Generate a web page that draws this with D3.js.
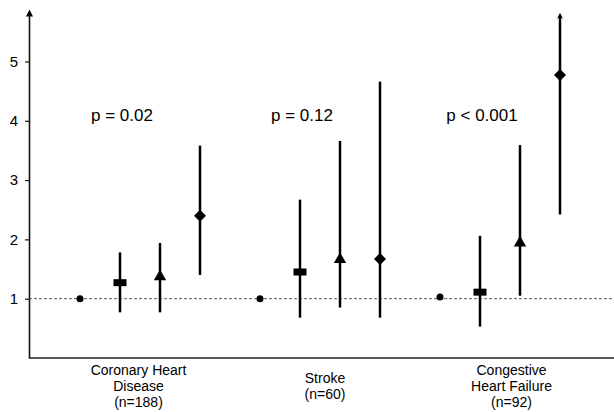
<!DOCTYPE html>
<html>
<head>
<meta charset="utf-8">
<script src="https://cdn.jsdelivr.net/npm/d3@7"></script>
<style>
  body { margin: 0; background: #fff; }
  svg { display: block; font-family: "Liberation Sans", Arial, sans-serif; }
</style>
</head>
<body>
<div id="chart"></div>
<script>
// categories and label lines
const categories = ["CHD", "Stroke", "CHF"];
const categoryLines = [
    ["Coronary Heart", "Disease", "(n=188)"],
    ["Stroke", "(n=60)"],
    ["Congestive", "Heart Failure", "(n=92)"]
];
const groups = ["g1", "g2", "g3", "g4"];
const shapes = ["circle", "rect", "triangle", "diamond"];

// point estimates and confidence limits, one row per category
const estimates = [
    [1.00, 1.27, 1.37, 2.40],
    [1.00, 1.45, 1.66, 1.67],
    [1.03, 1.11, 1.94, 4.77]
];
const lower = [
    [null, 0.77, 0.77, 1.40],
    [null, 0.68, 0.85, 0.68],
    [null, 0.53, 1.05, 2.42]
];
const upper = [
    [null, 1.78, 1.94, 3.58],
    [null, 2.67, 3.66, 4.66],
    [null, 2.06, 3.59, 5.75]
];
// upper limit runs off the chart (drawn with an arrow)
const truncated = [
    [false, false, false, false],
    [false, false, false, false],
    [false, false, false, true]
];
const pValues = ["p = 0.02", "p = 0.12", "p < 0.001"];
const yTicks = [1, 2, 3, 4, 5];
const refValue = 1;

const width = 614, height = 412;
const axisX = 29;

const svg = d3.select("#chart")
    .append("svg")
    .attr("width", width)
    .attr("height", height);

const defs = svg.append("defs");
defs.append("marker")
    .attr("id", "arrow")
    .attr("viewBox", "0 0 10 10")
    .attr("refX", 3).attr("refY", 5)
    .attr("markerWidth", 9).attr("markerHeight", 7)
    .attr("markerUnits", "userSpaceOnUse")
    .attr("orient", "auto")
    .append("path")
    .attr("d", "M0,0 L10,5 L0,10 Z")
    .attr("fill", "#000");
defs.append("marker")
    .attr("id", "ciArrow")
    .attr("viewBox", "0 0 10 10")
    .attr("refX", 3).attr("refY", 5)
    .attr("markerWidth", 8).attr("markerHeight", 6)
    .attr("markerUnits", "userSpaceOnUse")
    .attr("orient", "auto")
    .append("path")
    .attr("d", "M0,0 L10,5 L0,10 L3,5 Z")
    .attr("fill", "#000");

// scales
const y = d3.scaleLinear()
    .domain([0, 5.8])
    .range([358, 14]);

const x = d3.scaleBand()
    .domain(categories)
    .range([50, 590]);

const inner = d3.scalePoint()
    .domain(groups)
    .range([-60, 60]);

// category label positions
const xLabel = d3.scalePoint()
    .domain(categories)
    .range([138, 511]);

// y axis
const yAxis = svg.append("g")
    .attr("transform", `translate(${axisX},0)`)
    .call(d3.axisLeft(y)
        .tickValues(yTicks)
        .tickFormat(d3.format("d"))
        .tickSize(4)
        .tickPadding(7)
        .tickSizeOuter(0));
yAxis.select(".domain")
    .attr("stroke", "#111")
    .attr("stroke-width", 1.6)
    .attr("marker-end", "url(#arrow)");
yAxis.selectAll(".tick line").attr("stroke", "#111").attr("stroke-width", 1.2);
yAxis.selectAll(".tick text")
    .attr("fill", "#000")
    .style("font-size", "15px")
    .style("font-family", "Liberation Sans, Arial, sans-serif");

// x axis with multi-line labels
const xAxis = svg.append("g")
    .attr("transform", `translate(0,${y(0)})`)
    .call(d3.axisBottom(xLabel).tickSize(0).tickFormat(""));
xAxis.select(".domain").remove();
xAxis.append("line")
    .attr("x1", axisX).attr("x2", width)
    .attr("stroke", "#222")
    .attr("stroke-width", 1.4);

xAxis.selectAll(".tick text").each(function (d, i) {
    const lines = categoryLines[i];
    const offset = lines.length === 2 ? 25 : 17;
    const t = d3.select(this)
        .attr("y", 0)
        .attr("dy", null)
        .attr("fill", "#000")
        .style("font-size", "14px")
        .style("font-family", "Liberation Sans, Arial, sans-serif");
    lines.forEach((ln, j) => {
        t.append("tspan")
            .attr("x", 0)
            .attr("y", offset + j * 16)
            .text(ln);
    });
});

// reference line at 1
svg.append("line")
    .attr("x1", axisX).attr("x2", width)
    .attr("y1", y(refValue)).attr("y2", y(refValue))
    .attr("stroke", "#555")
    .attr("stroke-width", 1)
    .attr("stroke-dasharray", "3,2");

// flatten points
const points = [];
categories.forEach((c, i) => {
    groups.forEach((g, j) => {
        points.push({
            cat: c, group: g, shape: shapes[j],
            est: estimates[i][j], lo: lower[i][j], hi: upper[i][j],
            trunc: truncated[i][j]
        });
    });
});
const px = d => x(d.cat) + x.bandwidth() / 2 + inner(d.group);

// confidence intervals
svg.append("g")
    .selectAll("line")
    .data(points.filter(d => d.lo !== null))
    .join("line")
    .attr("x1", px).attr("x2", px)
    .attr("y1", d => y(d.lo))
    .attr("y2", d => y(d.hi))
    .attr("stroke", "#000")
    .attr("stroke-width", 2.5)
    .attr("marker-end", d => d.trunc ? "url(#ciArrow)" : null);

// markers
const marks = svg.append("g");
marks.selectAll(".m-circle")
    .data(points.filter(d => d.shape === "circle"))
    .join("circle")
    .attr("class", "m-circle")
    .attr("cx", px).attr("cy", d => y(d.est))
    .attr("r", 3.5)
    .attr("fill", "#000");

marks.selectAll(".m-rect")
    .data(points.filter(d => d.shape === "rect"))
    .join("rect")
    .attr("class", "m-rect")
    .attr("x", d => px(d) - 6.5)
    .attr("y", d => y(d.est) - 3.5)
    .attr("width", 13).attr("height", 7)
    .attr("fill", "#000");

marks.selectAll(".m-tri")
    .data(points.filter(d => d.shape === "triangle"))
    .join("path")
    .attr("class", "m-tri")
    .attr("transform", d => `translate(${px(d)},${y(d.est)})`)
    .attr("d", d3.symbol(d3.symbolTriangle, 66))
    .attr("fill", "#000");

marks.selectAll(".m-dia")
    .data(points.filter(d => d.shape === "diamond"))
    .join("path")
    .attr("class", "m-dia")
    .attr("transform", d => `translate(${px(d)},${y(d.est)}) rotate(45)`)
    .attr("d", d3.symbol(d3.symbolSquare, 72))
    .attr("fill", "#000");

// p-values
svg.append("g")
    .selectAll("text")
    .data(pValues)
    .join("text")
    .attr("x", (d, i) => x(categories[i]) + x.bandwidth() / 2 + inner("g2") + 2)
    .attr("y", y(4))
    .attr("text-anchor", "middle")
    .attr("fill", "#000")
    .style("font-size", "17px")
    .text(d => d);
</script>
</body>
</html>
